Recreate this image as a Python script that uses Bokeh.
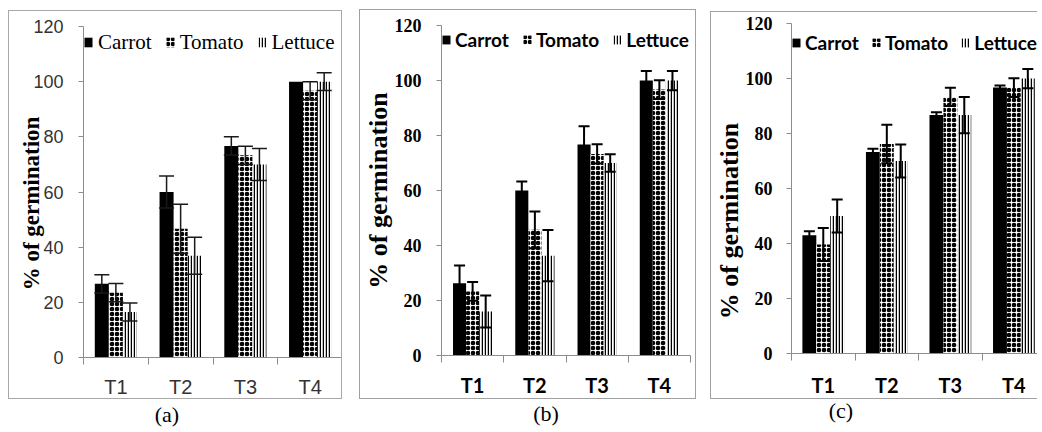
import numpy as np
from bokeh.plotting import figure
from bokeh.models import (ColumnDataSource, FixedTicker, Whisker, TeeHead, Legend,
                          LegendItem, Div, Range1d)
from bokeh.layouts import row, column
from bokeh.embed import file_html
from bokeh.resources import INLINE

categories = ["T1", "T2", "T3", "T4"]
series = ["Carrot", "Tomato", "Lettuce"]
y_ticks = [0, 20, 40, 60, 80, 100, 120]
y_title = "% of germination"

# panel (a)
carrot_a = [26.7, 60.0, 76.7, 100.0]
carrot_a_err = [3.3, 5.8, 3.3, 0.0]
tomato_a = [23.5, 46.7, 73.3, 96.7]
tomato_a_err = [3.3, 8.9, 3.3, 3.3]
lettuce_a = [16.5, 36.9, 70.0, 100.0]
lettuce_a_err = [3.3, 6.7, 5.8, 3.2]

# panel (b)
carrot_b = [26.3, 60.0, 76.7, 100.0]
carrot_b_err = [6.4, 3.3, 6.7, 3.5]
tomato_b = [23.3, 45.7, 73.3, 96.7]
tomato_b_err = [3.4, 6.7, 3.5, 3.4]
lettuce_b = [16.0, 36.3, 70.0, 100.0]
lettuce_b_err = [5.8, 9.3, 3.2, 3.5]

# panel (c)
carrot_c = [43.0, 73.3, 86.7, 96.7]
carrot_c_err = [1.5, 1.2, 1.0, 0.8]
tomato_c = [39.6, 76.2, 93.3, 96.7]
tomato_c_err = [6.0, 7.0, 3.3, 3.4]
lettuce_c = [50.0, 70.0, 86.7, 100.0]
lettuce_c_err = [6.0, 6.0, 6.6, 3.5]

AXIS_GREY = "#8c8c8c"


def make_panel(vals, errs, cfg):
    p = figure(width=cfg["w"], height=cfg["h"],
               x_range=Range1d(0, cfg["xend"]), y_range=Range1d(0, 120),
               output_backend="svg", toolbar_location=None,
               min_border_top=cfg["mb"][0], min_border_right=cfg["mb"][1],
               min_border_bottom=cfg["mb"][2], min_border_left=cfg["mb"][3])
    p.outline_line_color = None
    p.grid.visible = False
    p.background_fill_color = "white"
    p.border_fill_color = "white"
    p.styles = cfg["css"]

    bw = cfg["bw"]
    offsets = [-bw, 0.0, bw]
    styles = [
        dict(fill_color="black", line_color=None),
        dict(fill_color="white", line_color=None, hatch_pattern="ring",
             hatch_color="black", hatch_scale=5, hatch_weight=2.1),
        dict(fill_color="white", line_color=None, hatch_pattern="vertical_line",
             hatch_color="black", hatch_scale=3, hatch_weight=1.5),
    ]
    items = []
    for k, name in enumerate(series):
        xs = np.arange(len(categories)) + 0.5 + offsets[k]
        v = np.array(vals[k], dtype=float)
        e = np.array(errs[k], dtype=float)
        src = ColumnDataSource(dict(x=xs, top=v))
        r = p.vbar(x="x", top="top", width=bw, source=src, **styles[k])
        items.append(LegendItem(label=name, renderers=[r]))
        m = e > 0
        wsrc = ColumnDataSource(dict(x=xs[m], upper=(v + e)[m], lower=(v - e)[m]))
        w = Whisker(source=wsrc, base="x", upper="upper", lower="lower",
                    dimension="height", line_color=cfg["wc"], line_width=cfg["wl"],
                    upper_head=TeeHead(size=cfg["cap"], line_color=cfg["wc"], line_width=cfg["wl"]),
                    lower_head=TeeHead(size=cfg["cap"], line_color=cfg["wc"], line_width=cfg["wl"]),
                    level="overlay")
        p.add_layout(w)

    # y axis
    ya = p.yaxis[0]
    ya.ticker = FixedTicker(ticks=y_ticks)
    ya.axis_line_color = AXIS_GREY
    ya.major_tick_line_color = AXIS_GREY
    ya.major_tick_out = 5
    ya.major_tick_in = 0
    ya.minor_tick_line_color = None
    ya.major_label_standoff = cfg["ystand"]
    ya.major_label_text_font = cfg["yfont"]
    ya.major_label_text_font_style = cfg["ystyle"]
    ya.major_label_text_font_size = cfg["ysize"]
    ya.major_label_text_color = cfg["tcolor"]
    ya.axis_label = cfg["title"]
    ya.axis_label_text_font = "Liberation Serif"
    ya.axis_label_text_font_style = "bold"
    ya.axis_label_text_font_size = cfg["tsize"]
    ya.axis_label_text_color = "black"
    ya.axis_label_standoff = cfg["tstand"]

    # x axis: labels at category centres, ticks at category boundaries
    xa = p.xaxis[0]
    centers = [i + 0.5 for i in range(len(categories))]
    xa.ticker = FixedTicker(ticks=centers, minor_ticks=list(range(len(categories) + 1)))
    xa.major_label_overrides = {c: lab for c, lab in zip(centers, categories)}
    xa.axis_line_color = AXIS_GREY
    xa.major_tick_line_color = None
    xa.major_tick_out = 0
    xa.major_tick_in = 0
    xa.minor_tick_line_color = AXIS_GREY
    xa.minor_tick_out = 7
    xa.minor_tick_in = 0
    xa.major_label_standoff = cfg["xstand"]
    xa.major_label_text_font = cfg["xfont"]
    xa.major_label_text_font_style = cfg["xstyle"]
    xa.major_label_text_font_size = cfg["xsize"]
    xa.major_label_text_color = cfg["tcolor"]

    leg = Legend(items=items, location="top_left", orientation="horizontal",
                 margin=0, padding=cfg["lpad"], spacing=cfg["lspace"],
                 label_standoff=cfg["lstand"], glyph_width=cfg["gw"], glyph_height=cfg["gh"],
                 label_height=cfg["lh"],
                 label_text_font=cfg["lfont"], label_text_font_style=cfg["lstyle"],
                 label_text_font_size=cfg["lsize"], label_text_color="black",
                 border_line_color=None, background_fill_alpha=0)
    p.add_layout(leg)
    return p


cfg_a = dict(w=334, h=389, xend=4.0, mb=(15, 1, 43, 74),
             css={"border": "1px solid #a8a8a8"}, bw=0.217,
             wc="#1a1a1a", wl=1.5, cap=15,
             ystand=15, yfont="Liberation Sans", ystyle="normal", ysize="18px",
             tcolor="#333333", title=y_title + "\u00a0" * 4, tsize="23px", tstand=-14,
             xstand=11, xfont="Liberation Sans", xstyle="normal", xsize="20px",
             lpad=10, lspace=13, lstand=5, gw=10, gh=12, lh=32,
             lfont="Liberation Serif", lstyle="normal", lsize="21px")

cfg_b = dict(w=337, h=390, xend=4.0, mb=(15, 7, 45, 76),
             css={"border": "1px solid #a0a0a0"}, bw=0.21,
             wc="black", wl=2, cap=11,
             ystand=15, yfont="Liberation Serif", ystyle="bold", ysize="18px",
             tcolor="black", title=y_title, tsize="26px", tstand=-1,
             xstand=10, xfont="Lato", xstyle="bold", xsize="20px",
             lpad=7, lspace=13, lstand=4, gw=10, gh=11, lh=28,
             lfont="Lato", lstyle="bold", lsize="19px")

cfg_c = dict(w=327, h=388, xend=3.887, mb=(11, 0, 47, 79),
             css={"border": "1px solid #a0a0a0", "border-right": "none"}, bw=0.219,
             wc="black", wl=2, cap=11,
             ystand=14, yfont="Liberation Serif", ystyle="bold", ysize="18px",
             tcolor="black", title=y_title + "\u00a0" * 10, tsize="26px", tstand=-1,
             xstand=12, xfont="Lato", xstyle="bold", xsize="20px",
             lpad=2, lspace=12, lstand=4, gw=10, gh=11, lh=38,
             lfont="Lato", lstyle="bold", lsize="19px")

pa = make_panel([carrot_a, tomato_a, lettuce_a], [carrot_a_err, tomato_a_err, lettuce_a_err], cfg_a)
pb = make_panel([carrot_b, tomato_b, lettuce_b], [carrot_b_err, tomato_b_err, lettuce_b_err], cfg_b)
pc = make_panel([carrot_c, tomato_c, lettuce_c], [carrot_c_err, tomato_c_err, lettuce_c_err], cfg_c)

cap_style = {"font-family": "'Liberation Serif', serif", "font-size": "22px",
             "line-height": "24px", "color": "black"}


def caption(txt, top, left):
    return Div(text='<div style="width:40px;text-align:center">%s</div>' % txt,
               width=40, height=24, margin=(top, 0, 0, left), styles=cap_style)


da = caption("(a)", 4, 139)
db = caption("(b)", 3, 167)
dc = caption("(c)", 0, 111)

col_a = column(pa, da, margin=(10, 0, 0, 8))
col_b = column(pb, db, margin=(9, 0, 0, 17))
col_c = column(pc, dc, margin=(11, 0, 0, 14))
layout = row(col_a, col_b, col_c)

open("out.html", "w").write(file_html(layout, INLINE))
